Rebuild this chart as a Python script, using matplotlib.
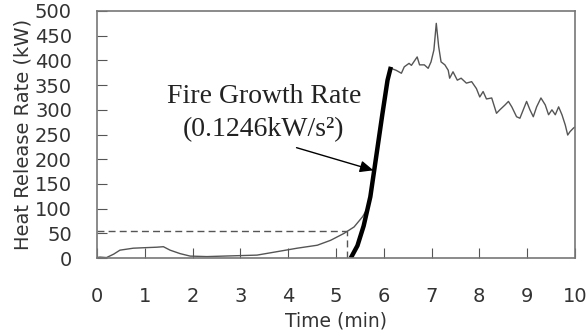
import matplotlib.pyplot as plt

t_min = [0.0, 0.06, 0.2, 0.35, 0.48, 0.76, 1.0, 1.25, 1.39, 1.53, 1.74, 1.95, 2.3, 2.65, 3.0,
         3.35, 3.77, 4.19, 4.61, 4.89, 5.17, 5.38, 5.56, 5.66, 5.72, 5.9, 6.05, 6.15, 6.26,
         6.37, 6.43, 6.53, 6.58, 6.70, 6.75, 6.85, 6.93, 6.99, 7.05, 7.10, 7.15, 7.20,
         7.28, 7.35, 7.38, 7.45, 7.54, 7.62, 7.73, 7.84, 7.94, 8.01, 8.08, 8.15, 8.26,
         8.36, 8.43, 8.54, 8.61, 8.68, 8.78, 8.85, 8.92, 8.99, 9.06, 9.13, 9.20, 9.29,
         9.38, 9.45, 9.52, 9.59, 9.66, 9.73, 9.80, 9.85, 9.90, 9.97, 10.0]
hrr_kw = [1, 2, 1, 8, 16, 20, 21, 22, 23, 16, 9, 4, 3, 4, 5,
          6, 13, 20, 26, 36, 50, 63, 84, 101, 124, 250, 340, 384, 380,
          374, 387, 394, 390, 407, 391, 391, 384, 397, 421, 475, 428, 397,
          391, 380, 364, 377, 360, 364, 354, 357, 343, 326, 337, 322, 324,
          293, 300, 310, 317, 306, 286, 283, 300, 317, 300, 286, 306, 324,
          310, 290, 300, 290, 306, 290, 269, 249, 256, 263, 265]

# Fire growth fit (thick line)
fit_t = [5.31, 5.45, 5.58, 5.72, 5.85, 5.97, 6.08, 6.15]
fit_q = [0, 25, 65, 124, 210, 290, 360, 387]

# 50 kW threshold guide
thresh_q = 55
thresh_t = 5.24

xticks = list(range(0, 11))
yticks = list(range(0, 501, 50))

gray = '#555555'
txt = '#333333'

fig = plt.figure(figsize=(5.86, 3.33), dpi=100)
ax = fig.add_axes([0.1655, 0.225, 0.8155, 0.742])

ax.plot(t_min, hrr_kw, color=gray, lw=1.0)
ax.plot(fit_t, fit_q, color='black', lw=3.2, solid_capstyle='butt')
ax.plot([0, thresh_t], [thresh_q, thresh_q], color=gray, lw=1.0, ls=(0, (5, 3)))
ax.plot([thresh_t, thresh_t], [0, thresh_q], color=gray, lw=1.0, ls=(0, (5, 3)))

ax.text(3.49, 326, 'Fire Growth Rate', family='Liberation Serif', fontsize=20,
        ha='center', va='center', color='#222222')
ax.text(3.49, 259, '(0.1246kW/s²)', family='Liberation Serif', fontsize=20,
        ha='center', va='center', color='#222222')
ax.annotate('', xy=(5.84, 176), xytext=(4.12, 225),
            arrowprops=dict(arrowstyle='-|>,head_length=0.8,head_width=0.35',
                            color='black', lw=1.0))

ax.set_xlim(0, 10)
ax.set_ylim(0, 500)
ax.set_xticks(xticks)
ax.set_yticks(yticks)
ax.tick_params(axis='x', direction='in', length=7, pad=21, labelsize=14,
               labelcolor=txt, color=gray)
ax.tick_params(axis='y', direction='in', length=7, pad=18, labelsize=14,
               labelcolor=txt, color=gray)
for sp in ax.spines.values():
    sp.set_color('#777777')
    sp.set_linewidth(1.2)

ax.set_xlabel('Time (min)', fontsize=13.5, color=txt, labelpad=4)
ax.set_ylabel('Heat Release Rate (kW)', fontsize=14, color=txt, labelpad=2)

fig.savefig('out.png', dpi=100)
